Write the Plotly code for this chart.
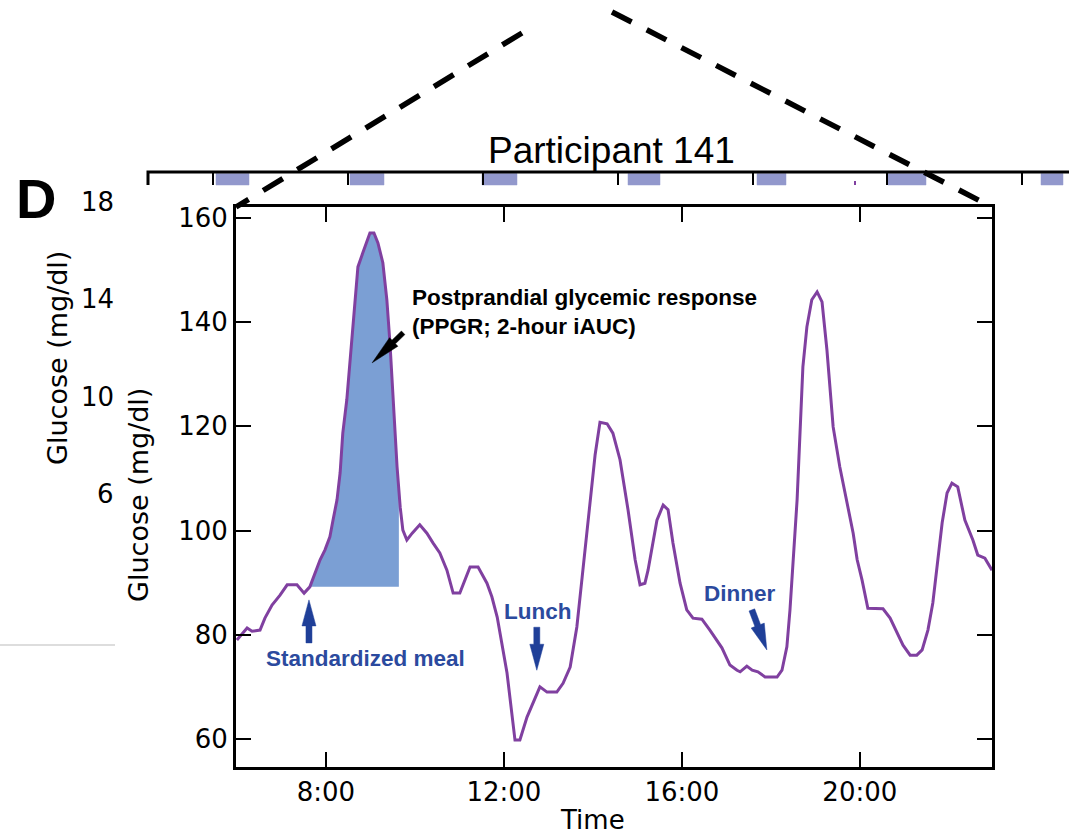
import numpy as np
import plotly.graph_objects as go

# ---------------- data ----------------
TIME_H = [6.00, 6.14, 6.23, 6.34, 6.52, 6.63, 6.79, 6.97, 7.13, 7.35, 7.51, 7.64, 7.76, 7.87,
          7.98, 8.09, 8.16, 8.25, 8.32, 8.38, 8.47, 8.54, 8.61, 8.72, 8.83, 8.99, 9.08, 9.17,
          9.28, 9.37, 9.44, 9.51, 9.60, 9.67, 9.73, 9.82, 9.94, 10.11, 10.27, 10.41, 10.56,
          10.72, 10.86, 11.01, 11.13, 11.24, 11.42, 11.62, 11.73, 11.85, 12.07, 12.25, 12.36,
          12.52, 12.81, 12.97, 13.19, 13.33, 13.49, 13.64, 13.76, 13.89, 14.05, 14.16, 14.32,
          14.45, 14.61, 14.79, 14.95, 15.06, 15.17, 15.24, 15.35, 15.44, 15.58, 15.69, 15.80,
          15.96, 16.11, 16.25, 16.45, 16.63, 16.90, 17.08, 17.24, 17.31, 17.46, 17.58, 17.71,
          17.87, 18.14, 18.25, 18.36, 18.43, 18.59, 18.72, 18.81, 18.92, 19.04, 19.15, 19.26,
          19.40, 19.55, 19.85, 19.94, 20.05, 20.18, 20.52, 20.68, 20.83, 20.97, 21.13, 21.28,
          21.40, 21.53, 21.64, 21.85, 21.96, 22.07, 22.20, 22.36, 22.54, 22.65, 22.81, 22.97]
GLUCOSE = [79.0, 80.5, 81.3, 80.7, 80.9, 83.2, 85.7, 87.6, 89.6, 89.6, 88.0, 89.2, 91.9, 94.4,
           96.3, 98.8, 102.0, 105.9, 111.1, 118.7, 125.1, 132.7, 139.1, 150.6, 153.3, 157.1,
           157.1, 155.2, 151.4, 144.3, 136.0, 125.1, 112.2, 104.5, 100.1, 98.2, 99.5, 101.1,
           99.5, 97.6, 95.7, 92.4, 88.0, 88.0, 90.5, 93.0, 93.0, 89.9, 87.3, 83.4, 72.7, 59.8,
           59.8, 64.2, 70.0, 69.0, 69.0, 70.7, 73.8, 81.5, 91.1, 102.0, 114.5, 120.8, 120.5,
           118.7, 113.6, 104.0, 94.4, 89.6, 89.9, 92.4, 97.6, 102.0, 104.9, 104.0, 97.6, 89.9,
           84.8, 83.2, 83.0, 80.9, 77.5, 74.2, 73.2, 72.9, 74.0, 73.2, 72.9, 71.9, 71.9, 73.2,
           77.7, 84.8, 105.9, 131.4, 139.1, 144.3, 145.8, 143.9, 134.7, 119.9, 112.2, 99.5,
           94.4, 90.5, 85.1, 85.0, 83.2, 80.5, 78.0, 76.1, 76.1, 77.1, 80.9, 86.1, 101.5,
           107.2, 109.1, 108.4, 102.0, 98.2, 95.3, 94.7, 92.4]

MEAL_TIME = 7.64          # standardized meal (h)
IAUC_HOURS = 2.0          # 2-hour iAUC window

X_TICKS = [8, 12, 16, 20]
X_TICK_LABELS = ["8:00", "12:00", "16:00", "20:00"]
Y_TICKS = [60, 80, 100, 120, 140, 160]

MEAL_LABELS = ["Standardized meal", "Lunch", "Dinner"]
MEAL_LABEL_T = [8.88, 12.77, 17.31]
MEAL_LABEL_G = [75.5, 84.4, 88.0]
MEAL_ARROW_T = [7.62, 12.74, 17.91]
MEAL_ARROW_G = [86.7, 73.2, 77.1]

PPGR_TEXT = "Postprandial glycemic response<br>(PPGR; 2-hour iAUC)"
PPGR_TEXT_T, PPGR_TEXT_G = 9.90, 142.0
PPGR_ARROW_T, PPGR_ARROW_G = 9.04, 132.2

# cropped background panel fragments
BG_TITLE = "Participant 141"
BG_Y_TICK_LABELS = ["18", "14", "10", "6"]   # cut-off "180", "140", "100", "60"

# ---------------- layout constants (pixels) ----------------
W, H = 1069, 835
PL, PR, PT, PB = 236, 992, 207, 767
X_RANGE = [5.98, 22.97]
Y_RANGE = [54.63, 162.1]

PURPLE = "#8040a0"
FILL = "#7b9fd4"
BLUE_TXT = "#2b4a9e"
BLUE_ARROW = "#1f3f98"
STRIP_BOX = "#9298cc"


def to_px(t, g):
    x = PL + (t - X_RANGE[0]) / (X_RANGE[1] - X_RANGE[0]) * (PR - PL)
    y = PB - (g - Y_RANGE[0]) / (Y_RANGE[1] - Y_RANGE[0]) * (PB - PT)
    return x, y


def arrow_poly(tail, tip, shaft_w, head_w, head_len):
    tx, ty = tail
    hx, hy = tip
    d = np.array([hx - tx, hy - ty], dtype=float)
    d /= np.linalg.norm(d)
    n = np.array([-d[1], d[0]])
    base = np.array([hx, hy]) - d * head_len
    t = np.array([tx, ty])
    pts = [t + n * shaft_w / 2, base + n * shaft_w / 2, base + n * head_w / 2,
           np.array([hx, hy]), base - n * head_w / 2, base - n * shaft_w / 2,
           t - n * shaft_w / 2, t + n * shaft_w / 2]
    return [p[0] for p in pts], [p[1] for p in pts]


fig = go.Figure()

# iAUC fill built from the curve
t_arr = np.array(TIME_H)
g_arr = np.array(GLUCOSE)
t_end = MEAL_TIME + IAUC_HOURS
base = float(np.interp(MEAL_TIME, t_arr, g_arr))
mask = (t_arr > MEAL_TIME) & (t_arr < t_end)
fx = [MEAL_TIME] + list(t_arr[mask]) + [t_end, t_end, MEAL_TIME]
fy = [base] + list(g_arr[mask]) + [float(np.interp(t_end, t_arr, g_arr)), base, base]
fig.add_trace(go.Scatter(x=fx, y=fy, fill="toself", fillcolor=FILL, mode="none",
                         xaxis="x", yaxis="y", hoverinfo="skip", showlegend=False))

fig.add_trace(go.Scatter(x=TIME_H, y=GLUCOSE, mode="lines",
                         line=dict(color=PURPLE, width=3), xaxis="x", yaxis="y",
                         showlegend=False))

# ---------- overlay (pixel) decorations ----------
def px_line(xs, ys, color="black", width=2, dash=None):
    fig.add_trace(go.Scatter(x=xs, y=ys, mode="lines", xaxis="x2", yaxis="y2",
                             line=dict(color=color, width=width, dash=dash),
                             hoverinfo="skip", showlegend=False))

def px_poly(xs, ys, color):
    fig.add_trace(go.Scatter(x=xs, y=ys, mode="lines", fill="toself", fillcolor=color,
                             line=dict(color=color, width=0.5), xaxis="x2", yaxis="y2",
                             hoverinfo="skip", showlegend=False))

# top strip of the background panel
STRIP_Y, STRIP_Y2 = 172, 185
STRIP_TICKS = [213, 348, 483, 618, 753, 887, 1022]
STRIP_BOXES = [(216, 249), (350, 384), (482, 517), (628, 660), (757, 786), (888, 926), (1041, 1063)]
for x0, x1 in STRIP_BOXES:
    px_poly([x0, x1, x1, x0, x0], [STRIP_Y + 1.5, STRIP_Y + 1.5, STRIP_Y2, STRIP_Y2, STRIP_Y + 1.5], STRIP_BOX)
for xt in STRIP_TICKS:
    px_line([xt, xt], [STRIP_Y, STRIP_Y2], width=2)
px_line([148, 148, W], [STRIP_Y2, STRIP_Y, STRIP_Y], width=3)
px_line([855, 855], [181, 185], color=PURPLE, width=2)

# gray axis fragment of background panel
px_line([0, 115], [645, 645], color="#bbbbbb", width=1.2)

# dashed zoom lines
px_line([522, PL], [33, PT], width=5.5, dash="23px,17px")
px_line([612, PR], [12, PT], width=5.5, dash="22px,17px")

# meal arrows (blue)
MEAL_TAIL_OFF = [(0, 43), (0, -43), (-15, -40)]
for t, g, (dx, dy) in zip(MEAL_ARROW_T, MEAL_ARROW_G, MEAL_TAIL_OFF):
    tip = to_px(t, g)
    tail = (tip[0] + dx, tip[1] + dy)
    xs, ys = arrow_poly(tail, tip, 6, 14, 26)
    px_poly(xs, ys, BLUE_ARROW)

# PPGR arrow (black)
tip = to_px(PPGR_ARROW_T, PPGR_ARROW_G)
tail = (tip[0] + 31, tip[1] - 30)
xs, ys = arrow_poly(tail, tip, 5, 12, 30)
px_poly(xs, ys, "black")

# ---------------- axes ----------------
tickfont = dict(family="DejaVu Sans", size=26, color="black")
fig.update_layout(
    width=W, height=H, margin=dict(l=0, r=0, t=0, b=0),
    paper_bgcolor="white", plot_bgcolor="rgba(0,0,0,0)",
    showlegend=False, hovermode=False,
    xaxis=dict(domain=[PL / W, PR / W], range=X_RANGE, tickvals=X_TICKS,
               ticktext=X_TICK_LABELS, ticks="inside", ticklen=15, tickwidth=2,
               tickcolor="black", showline=True, linewidth=3, linecolor="black",
               mirror="ticks", showgrid=False, zeroline=False, tickfont=tickfont,
               anchor="y", automargin=False, fixedrange=True),
    yaxis=dict(domain=[1 - PB / H, 1 - PT / H], range=Y_RANGE, tickvals=Y_TICKS,
               ticks="inside", ticklen=15, tickwidth=2, tickcolor="black",
               showline=True, linewidth=3, linecolor="black", mirror="ticks",
               showgrid=False, zeroline=False, tickfont=tickfont, anchor="x",
               automargin=False, fixedrange=True),
    xaxis2=dict(domain=[0, 1], range=[0, W], visible=False, anchor="y2", fixedrange=True),
    yaxis2=dict(domain=[0, 1], range=[H, 0], visible=False, anchor="x2", fixedrange=True),
)

ann = []
# axis titles
ann.append(dict(x=592, y=820, xref="x2", yref="y2", text="Time", showarrow=False,
                font=dict(family="DejaVu Sans", size=26, color="black")))
ann.append(dict(x=138, y=495, xref="x2", yref="y2", text="Glucose (mg/dl)", showarrow=False,
                textangle=-90, font=dict(family="DejaVu Sans", size=27, color="black")))
# background panel fragments
ann.append(dict(x=611, y=150, xref="x2", yref="y2", text=BG_TITLE, showarrow=False,
                font=dict(family="Liberation Sans, Arial", size=37, color="black")))
ann.append(dict(x=36, y=198, xref="x2", yref="y2", text="<b>D</b>", showarrow=False,
                font=dict(family="Liberation Sans, Arial", size=56, color="black")))
for lab, yy in zip(BG_Y_TICK_LABELS, [202, 299, 397, 494]):
    ann.append(dict(x=116, y=yy, xref="x2", yref="y2", text=lab, showarrow=False,
                    xanchor="right", font=dict(family="DejaVu Sans", size=26, color="black")))
ann.append(dict(x=57, y=358, xref="x2", yref="y2", text="Glucose (mg/dl)", showarrow=False,
                textangle=-90, font=dict(family="DejaVu Sans", size=27, color="black")))
# meal labels
for lab, t, g in zip(MEAL_LABELS, MEAL_LABEL_T, MEAL_LABEL_G):
    ann.append(dict(x=t, y=g, xref="x", yref="y", text=f"<b>{lab}</b>", showarrow=False,
                    font=dict(family="Liberation Sans, Arial", size=22.5, color=BLUE_TXT)))
ann.append(dict(x=PPGR_TEXT_T, y=PPGR_TEXT_G, xref="x", yref="y", text=f"<b>{PPGR_TEXT}</b>",
                showarrow=False, xanchor="left", align="left",
                font=dict(family="Liberation Sans, Arial", size=22.5, color="black")))
fig.update_layout(annotations=ann)

fig.write_html("out.html", config={"displayModeBar": False, "staticPlot": True})
